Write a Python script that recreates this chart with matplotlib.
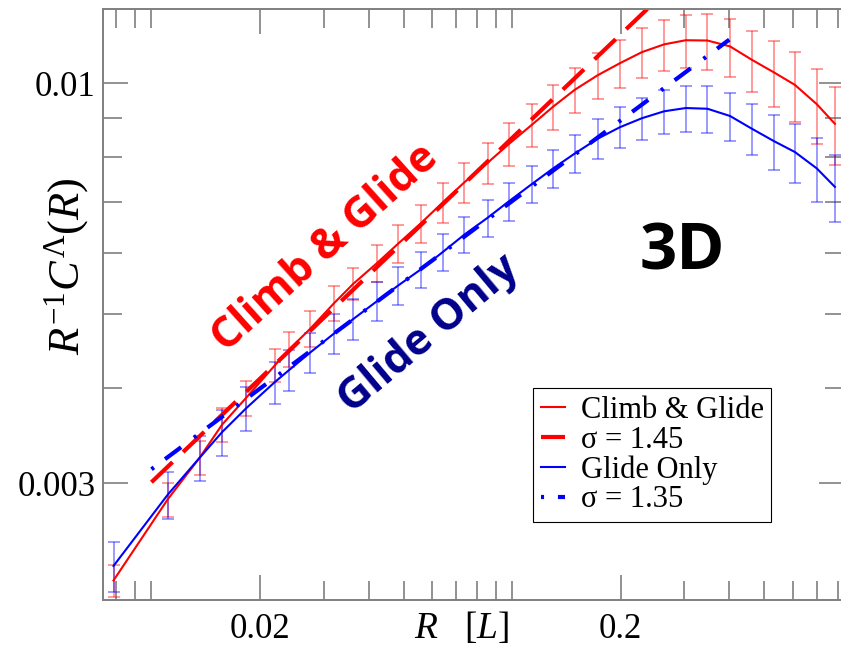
import matplotlib
matplotlib.use("Agg")
import matplotlib.pyplot as plt
from matplotlib import ticker

plt.rcParams['font.family'] = ['Liberation Serif', 'DejaVu Serif']
plt.rcParams['mathtext.fontset'] = 'custom'
plt.rcParams['mathtext.rm'] = 'Liberation Serif'
plt.rcParams['mathtext.it'] = 'Liberation Serif:italic'
plt.rcParams['lines.scale_dashes'] = False

# data
R = [0.00785, 0.0111, 0.0136, 0.0157, 0.0183, 0.0220, 0.0241, 0.0276, 0.0321, 0.0363,
     0.0422, 0.0483, 0.0558, 0.0643, 0.0737, 0.0855, 0.0980, 0.1133, 0.130, 0.149,
     0.1725, 0.199, 0.229, 0.264, 0.303, 0.348, 0.402, 0.462, 0.532, 0.608, 0.699, 0.785]

climb = [0.00224, 0.00286, 0.00324, 0.00358, 0.00388, 0.00428, 0.00449, 0.00478, 0.00516, 0.00547,
         0.00582, 0.00617, 0.00656, 0.00699, 0.00742, 0.00787, 0.00833, 0.00882, 0.00932, 0.00980,
         0.01024, 0.01062, 0.01098, 0.01124, 0.01138, 0.01137, 0.01117, 0.01073, 0.01033, 0.00995,
         0.00939, 0.00885]
climb_err = [0.000107, 0.000146, 0.000165, 0.000187, 0.000205, 0.000216, 0.000236, 0.000258, 0.000277, 0.000261,
             0.000322, 0.000357, 0.000378, 0.00042, 0.000446, 0.000482, 0.000535, 0.000573, 0.00063, 0.000663,
             0.000708, 0.000771, 0.000825, 0.00086, 0.0009, 0.00096, 0.00097, 0.00098, 0.00101, 0.00104,
             0.00105, 0.00103]

glide = [0.00234, 0.00290, 0.00324, 0.00350, 0.00376, 0.00407, 0.00422, 0.00445, 0.00471, 0.00492,
         0.00519, 0.00544, 0.00571, 0.00602, 0.00634, 0.00667, 0.00701, 0.00738, 0.00774, 0.00809,
         0.00846, 0.00876, 0.00900, 0.00919, 0.00928, 0.00926, 0.00906, 0.00872, 0.00840, 0.00813,
         0.00774, 0.00732]
glide_err = [0.000174, 0.000203, 0.000222, 0.000238, 0.000247, 0.000258, 0.000264, 0.000272, 0.000279, 0.000297,
             0.0003, 0.000307, 0.000315, 0.000333, 0.000343, 0.000368, 0.000395, 0.000414, 0.000446, 0.000467,
             0.00051, 0.000535, 0.00057, 0.00061, 0.00064, 0.00066, 0.00066, 0.00066, 0.00069, 0.00072,
             0.00074, 0.00074]

# power-law fits, end points
fit145_R = [0.01, 0.3]
fit145_y = [0.00301, 0.0139]
fit135_R = [0.01, 0.4]
fit135_y = [0.00313, 0.0114]

fig = plt.figure(figsize=(8.41, 6.47), dpi=100)
W, H = 841, 647
ax = fig.add_axes([102.7 / W, 1 - 600 / H, (844 - 102.7) / W, (600 - 9.3) / H])

ax.errorbar(R, climb, yerr=climb_err, fmt='none', ecolor=(1, 0, 0, 0.5),
            elinewidth=1.1, capsize=4.5, capthick=1.1)
ax.errorbar(R, glide, yerr=glide_err, fmt='none', ecolor=(0, 0, 1, 0.5),
            elinewidth=1.1, capsize=4.5, capthick=1.1)

ax.plot(R, climb, color='red', lw=1.5, label='Climb & Glide')
ax.plot(fit145_R, fit145_y, color='red', lw=3, linestyle=(0, (21, 10.5)), label='σ = 1.45')
ax.plot(R, glide, color='blue', lw=1.5, label='Glide Only')
ax.plot(fit135_R, fit135_y, color='blue', lw=3, linestyle=(0, (2.2, 10, 14.4, 11.5)),
        label='σ = 1.35')

ax.set_xscale('log')
ax.set_yscale('log')
ax.set_xlim(0.007326, 0.832)
ax.set_ylim(0.002112, 0.01249)

ax.xaxis.set_major_locator(ticker.FixedLocator([0.02, 0.2]))
ax.xaxis.set_major_formatter(ticker.FixedFormatter(['0.02', '0.2']))
ax.xaxis.set_minor_locator(ticker.LogLocator(base=10, subs=range(1, 10), numticks=20))
ax.xaxis.set_minor_formatter(ticker.NullFormatter())
ax.yaxis.set_major_locator(ticker.FixedLocator([0.003, 0.01]))
ax.yaxis.set_major_formatter(ticker.FixedFormatter(['0.003', '0.01']))
ax.yaxis.set_minor_locator(ticker.LogLocator(base=10, subs=range(1, 10), numticks=20))
ax.yaxis.set_minor_formatter(ticker.NullFormatter())

gray = '#7f7f7f'
for s in ax.spines.values():
    s.set_color(gray)
    s.set_linewidth(1.4)
ax.tick_params(which='both', direction='in', top=True, right=True, color=gray,
               width=1.2, labelsize=25, labelcolor='black')
ax.tick_params(which='major', length=18)
ax.tick_params(which='minor', length=14)
ax.tick_params(axis='x', pad=9)
ax.tick_params(axis='y', pad=5)

fig.text(66.5 / W, 1 - 266 / H, r'$R^{-1}C^{\Lambda}(R)$', rotation=90,
         ha='center', va='center', fontsize=32)
fig.text(462 / W, 1 - 638.3 / H, r'$R\ \ \ [L]$', ha='center', va='baseline', fontsize=27)

leg = ax.legend(loc='upper left', bbox_to_anchor=(533.3 / W, 1 - 388.3 / H),
                bbox_transform=fig.transFigure, borderaxespad=0, fontsize=22,
                handlelength=0.8, handletextpad=0.5, borderpad=0.25,
                labelspacing=0.02, fancybox=False, framealpha=1)
leg.get_frame().set_edgecolor('black')
leg.get_frame().set_linewidth(0.8)

fig.text(332.7 / W, 1 - 257 / H, 'Climb & Glide', color='red', fontsize=31,
         fontweight='bold', family='Open Sans', rotation=42, rotation_mode='anchor',
         ha='center', va='baseline')
fig.text(436.3 / W, 1 - 343.3 / H, 'Glide Only', color='#00008b', fontsize=31,
         fontweight='bold', family='Open Sans', rotation=40, rotation_mode='anchor',
         ha='center', va='baseline')
fig.text(682.5 / W, 1 - 270 / H, '3D', color='black', fontsize=47,
         fontweight='bold', family='Open Sans', ha='center', va='baseline')

fig.savefig('out.png', dpi=100)
